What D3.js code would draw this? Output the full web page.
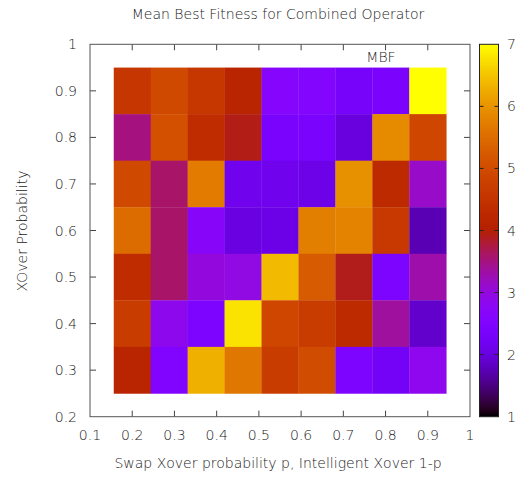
<!DOCTYPE html>
<html>
<head>
<meta charset="utf-8">
<script src="https://cdn.jsdelivr.net/npm/d3@7"></script>
<style>
	body { margin: 0; background: #fff; }
	text { font-family: "DejaVu Sans", sans-serif; fill: #1a1a1a; font-size: 14px; font-weight: 300; }
</style>
</head>
<body>
<svg id="chart" width="525" height="479"></svg>
<script>

// swap xover probability p (column centres)
const xValues = [0.2, 0.2875, 0.375, 0.4625, 0.55, 0.6375, 0.725, 0.8125, 0.9];
// xover probability (row centres)
const yValues = [0.9, 0.8, 0.7, 0.6, 0.5, 0.4, 0.3];

// mean best fitness, one row per yValue
const mbf = [
	[4.58, 4.95, 4.6, 4.16, 2.62, 2.6, 2.33, 2.4, 7.0],
	[3.5, 5.07, 4.33, 3.92, 2.35, 2.35, 2.02, 5.9, 4.9],
	[4.95, 3.6, 5.7, 2.15, 2.15, 2.1, 5.97, 4.3, 3.13],
	[5.5, 3.6, 2.68, 2.03, 2.08, 5.75, 5.8, 4.65, 1.75],
	[4.35, 3.6, 3.0, 2.95, 6.4, 5.25, 3.9, 2.45, 3.3],
	[4.7, 2.86, 2.45, 6.77, 4.9, 4.7, 4.3, 3.36, 1.88],
	[4.15, 2.5, 6.3, 5.65, 4.7, 5.0, 2.45, 2.25, 2.85]
];

const xTicks = [0.1, 0.2, 0.3, 0.4, 0.5, 0.6, 0.7, 0.8, 0.9, 1];
const yTicks = [0.2, 0.3, 0.4, 0.5, 0.6, 0.7, 0.8, 0.9, 1];
const cbTicks = [1, 2, 3, 4, 5, 6, 7];

const cellW = 0.0875, cellH = 0.1;

const svg = d3.select('#chart');

const x = d3.scaleLinear().domain([0.1, 1]).range([90, 470]);
const y = d3.scaleLinear().domain([0.2, 1]).range([416.7, 44.3]);
const cb = d3.scaleLinear().domain([1, 7]).range([416.7, 44.3]);

// gnuplot default palette, rgbformulae 7,5,15
function palette(v){
	let t = Math.max(0, Math.min(1, (v - 1) / 6));
	let r = Math.sqrt(t);
	let g = Math.pow(t, 3);
	let b = Math.max(0, Math.sin(2 * Math.PI * t));
	return d3.rgb(r * 255, g * 255, b * 255).toString();
}

// cells
let cells = [];
mbf.forEach((row, i) => row.forEach((v, j) => cells.push({x: xValues[j], y: yValues[i], v: v})));

svg.append('g')
	.selectAll('rect')
	.data(cells)
	.enter()
	.append('rect')
	.attr('x', d => x(d.x - cellW / 2))
	.attr('y', d => y(d.y + cellH / 2))
	.attr('width', d => x(d.x + cellW / 2) - x(d.x - cellW / 2) + 0.3)
	.attr('height', d => y(d.y - cellH / 2) - y(d.y + cellH / 2) + 0.3)
	.attr('fill', d => palette(d.v));

// ticks, mirrored on all sides, pointing in
const tickLen = 6;
let g = svg.append('g').attr('stroke', '#444').attr('stroke-width', 1);

xTicks.slice(1, -1).forEach(t => {
	g.append('line').attr('x1', x(t)).attr('x2', x(t)).attr('y1', y(0.2)).attr('y2', y(0.2) - tickLen);
	g.append('line').attr('x1', x(t)).attr('x2', x(t)).attr('y1', y(1)).attr('y2', y(1) + tickLen);
});
yTicks.slice(1, -1).forEach(t => {
	g.append('line').attr('x1', x(0.1)).attr('x2', x(0.1) + tickLen).attr('y1', y(t)).attr('y2', y(t));
	g.append('line').attr('x1', x(1)).attr('x2', x(1) - tickLen).attr('y1', y(t)).attr('y2', y(t));
});

svg.append('rect')
	.attr('x', x(0.1)).attr('y', y(1))
	.attr('width', x(1) - x(0.1)).attr('height', y(0.2) - y(1))
	.attr('fill', 'none').attr('stroke', '#555').attr('stroke-width', 1);

// tick labels
svg.append('g')
	.selectAll('text')
	.data(xTicks)
	.enter()
	.append('text')
	.attr('x', d => x(d))
	.attr('y', 440)
	.attr('text-anchor', 'middle')
	.text(d => d3.format('')(d));

svg.append('g')
	.selectAll('text')
	.data(yTicks)
	.enter()
	.append('text')
	.attr('x', 77)
	.attr('y', d => y(d) + 5)
	.attr('text-anchor', 'end')
	.text(d => d3.format('')(d));

// colour box
const cbX = 479.5, cbW = 19;
let defs = svg.append('defs');
let grad = defs.append('linearGradient')
	.attr('id', 'cbgrad')
	.attr('x1', 0).attr('y1', 1).attr('x2', 0).attr('y2', 0);
d3.range(0, 61).forEach(k => {
	let v = 1 + k * 0.1;
	grad.append('stop').attr('offset', (k / 60)).attr('stop-color', palette(v));
});

svg.append('rect')
	.attr('x', cbX).attr('y', cb(7))
	.attr('width', cbW).attr('height', cb(1) - cb(7))
	.attr('fill', 'url(#cbgrad)')
	.attr('stroke', '#222').attr('stroke-width', 1);

let cg = svg.append('g').attr('stroke', '#222').attr('stroke-width', 1);
cbTicks.slice(1, -1).forEach(t => {
	cg.append('line').attr('x1', cbX).attr('x2', cbX + 4).attr('y1', cb(t)).attr('y2', cb(t));
	cg.append('line').attr('x1', cbX + cbW).attr('x2', cbX + cbW - 4).attr('y1', cb(t)).attr('y2', cb(t));
});

svg.append('g')
	.selectAll('text')
	.data(cbTicks)
	.enter()
	.append('text')
	.attr('x', 507)
	.attr('y', d => cb(d) + 5)
	.attr('text-anchor', 'start')
	.text(d => d);

// titles
svg.append('text')
	.attr('x', 278).attr('y', 19)
	.attr('text-anchor', 'middle')
	.text('Mean Best Fitness for Combined Operator');

svg.append('text')
	.attr('x', 278).attr('y', 468)
	.attr('text-anchor', 'middle')
	.text('Swap Xover probability p, Intelligent Xover 1-p');

svg.append('text')
	.attr('transform', 'translate(27,231) rotate(-90)')
	.attr('text-anchor', 'middle')
	.text('XOver Probability');

svg.append('text')
	.attr('x', 381).attr('y', 62)
	.attr('text-anchor', 'middle')
	.text('MBF');

</script>
</body>
</html>
